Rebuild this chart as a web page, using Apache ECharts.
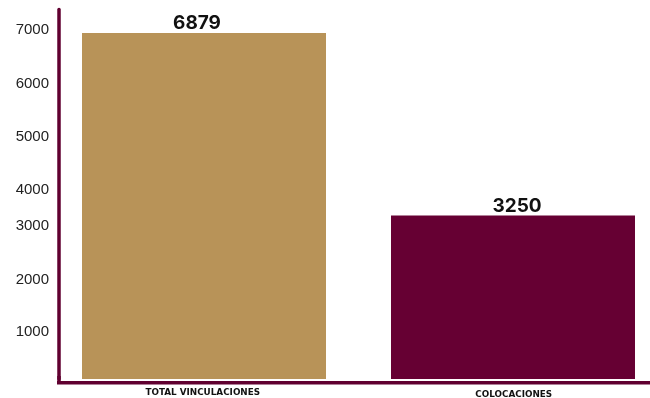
<!DOCTYPE html>
<html>
<head>
<meta charset="utf-8">
<script src="https://cdn.jsdelivr.net/npm/echarts@6/dist/echarts.min.js"></script>
<style>html,body{margin:0;padding:0;background:#fff}#c{width:650px;height:398px}</style>
</head>
<body>
<div id="c"></div>
<script>
var categories = ['TOTAL VINCULACIONES', 'COLOCACIONES'];
var vinculaciones = [6879, '-'];
var colocaciones = ['-', 3250];
var yTickLabels = [1000, 2000, 3000, 4000, 5000, 6000, 7000];

var axisColor = '#600030';
// small nudges of the tick labels, as in the reference
var yLabelNudge = {1000: 3.5, 2000: 1.5, 3000: -2, 4000: 12.5, 5000: 9.5, 6000: 7, 7000: 3};
var xLabelNudge = [[-10, 0], [9.5, 2.5]];

var yRich = {};
yTickLabels.forEach(function (v) {
  var d = yLabelNudge[v] || 0;
  yRich['t' + v] = {
    fontSize: 15, fontFamily: 'Liberation Sans, Arial, sans-serif', color: '#222',
    padding: d >= 0 ? [2 * d, 0, 0, 0] : [0, 0, -2 * d, 0]
  };
});
var xRich = {};
categories.forEach(function (c, i) {
  var dx = xLabelNudge[i][0], dy = xLabelNudge[i][1];
  xRich['c' + i] = {
    fontSize: 8.8, fontWeight: 'bold', color: '#111',
    fontFamily: '"DejaVu Sans", sans-serif',
    padding: [dy, dx < 0 ? -2 * dx : 0, 0, dx > 0 ? 2 * dx : 0]
  };
});

var valueLabel = {
  show: true, position: 'top', distance: 0,
  fontSize: 19, fontWeight: 'bold', color: '#111',
  fontFamily: 'Inter, "Open Sans", sans-serif'
};

var chart = echarts.init(document.getElementById('c'), null, {renderer: 'canvas'});
chart.setOption({
  animation: false,
  backgroundColor: '#fff',
  grid: {left: 67, right: 0, top: 9.4, bottom: 19, containLabel: false, outerBoundsMode: 'none'},
  xAxis: {
    type: 'category',
    data: categories,
    axisLine: {show: false},
    axisTick: {show: false},
    axisLabel: {
      margin: 9,
      formatter: function (v) { return '{c' + categories.indexOf(v) + '|' + v + '}'; },
      rich: xRich
    }
  },
  yAxis: {
    type: 'value',
    min: 0, max: 7350, interval: 1000,
    offset: 8,
    axisLine: {show: true, lineStyle: {color: axisColor, width: 3.5}},
    axisTick: {show: false},
    splitLine: {show: false},
    axisLabel: {
      margin: 10,
      formatter: function (v) {
        return yTickLabels.indexOf(v) >= 0 ? '{t' + v + '|' + v + '}' : '';
      },
      rich: yRich
    }
  },
  series: [{
    type: 'bar',
    name: 'TOTAL VINCULACIONES',
    barWidth: 244,
    barGap: '-92.83%',
    itemStyle: {color: '#b89358'},
    data: vinculaciones,
    label: Object.assign({}, valueLabel, {offset: [-7, 0]})
  }, {
    type: 'bar',
    name: 'COLOCACIONES',
    barWidth: 244,
    barGap: '-92.83%',
    itemStyle: {color: '#660033'},
    data: colocaciones,
    label: Object.assign({}, valueLabel, {offset: [4, 0]})
  }],
  graphic: [
    {type: 'rect', shape: {x: 57, y: 381, width: 593, height: 3.5}, style: {fill: axisColor}, z: 10},
    {type: 'rect', shape: {x: 57.25, y: 376, width: 3.5, height: 8}, style: {fill: axisColor}, z: 10}
  ]
});
</script>
</body>
</html>
